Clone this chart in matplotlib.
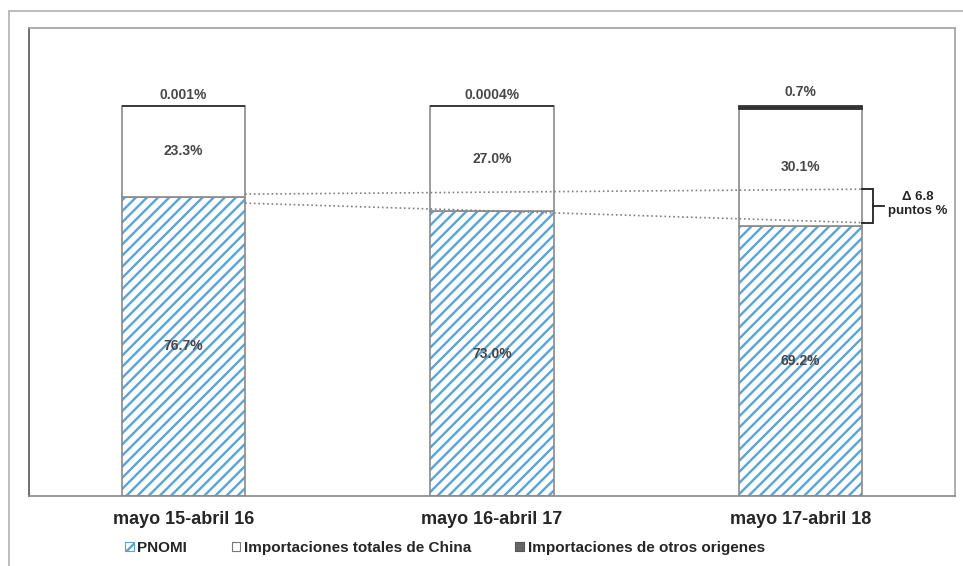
import matplotlib.pyplot as plt
from matplotlib.patches import Patch, Rectangle

plt.rcParams['font.family'] = ['Liberation Sans', 'DejaVu Sans']
plt.rcParams['hatch.linewidth'] = 1.7

# Data
categories = ['mayo 15-abril 16', 'mayo 16-abril 17', 'mayo 17-abril 18']
pnomi = [76.7, 73.0, 69.2]
china = [23.3, 27.0, 30.1]
otros = [0.001, 0.0004, 0.7]
pnomi_labels = ['76.7%', '73.0%', '69.2%']
china_labels = ['23.3%', '27.0%', '30.1%']
otros_labels = ['0.001%', '0.0004%', '0.7%']

blue = '#5aa3d6'
edge = '#8a8a8a'
dark = '#333333'
txt = '#262626'
lab = '#474747'

fig = plt.figure(figsize=(9.63, 5.66), dpi=100)
ax = fig.add_axes([29 / 963, 1 - 496 / 566, (955 - 29) / 963, (496 - 28) / 566])

x = list(range(len(categories)))
w = 0.40
china_bottom = pnomi
otros_bottom = [p + c for p, c in zip(pnomi, china)]

# hatched PNOMI bars, then grey outline over them
ax.bar(x, pnomi, w, color='white', edgecolor=blue, linewidth=0, hatch='///', zorder=2)
ax.bar(x, pnomi, w, color='none', edgecolor=edge, linewidth=1.2, zorder=3)
ax.bar(x, china, w, bottom=china_bottom, color='white', edgecolor=edge, linewidth=1.2, zorder=3)
ax.bar(x, otros, w, bottom=otros_bottom, color=dark, edgecolor=dark, linewidth=1.3, zorder=4)

for i in x:
    ax.text(i, pnomi[i] / 2, pnomi_labels[i], ha='center', va='center',
            fontsize=10, fontweight='bold', color=lab, zorder=5)
    ax.text(i, pnomi[i] + china[i] / 2, china_labels[i], ha='center', va='center',
            fontsize=10, fontweight='bold', color=lab, zorder=5)
    ax.text(i, 100 + otros[i] + 2.8, otros_labels[i], ha='center', va='center',
            fontsize=10, fontweight='bold', color=lab, zorder=5)

# dotted guide lines
ax.plot([0 + w / 2, 2.234], [77.4, 78.7], ls=':', color='#808080', lw=1.2, zorder=4)
ax.plot([0 + w / 2, 2.234], [75.1, 70.0], ls=':', color='#808080', lw=1.2, zorder=4)

# bracket
bx = 2.234
ax.plot([2 + w / 2, bx, bx, 2 + w / 2], [78.7, 78.7, 70.0, 70.0], color='#222222', lw=1.3,
        solid_joinstyle='miter', zorder=5)
ax.plot([bx, 2.27], [74.35, 74.35], color='#222222', lw=1.3, zorder=5)
ax.text(2.38, 74.9, 'Δ 6.8\npuntos %', ha='center', va='center', fontsize=9.5,
        fontweight='bold', color=txt, linespacing=1.3)

ax.set_xlim(-0.5, 2.5)
ax.set_ylim(0, 120)
ax.set_xticks(x)
ax.set_xticklabels(categories, fontsize=13, fontweight='bold', color=txt)
ax.tick_params(axis='x', length=0, pad=11)
ax.set_yticks([])
for s in ['top', 'right']:
    ax.spines[s].set_color('#a0a0a0')
ax.spines['bottom'].set_color('#888888')
ax.spines['left'].set_color('#555555')
for s in ax.spines.values():
    s.set_linewidth(1.2)

# outer frame
fig.patches.append(Rectangle((9 / 963, -0.1), 1.2, 1 - 11 / 566 + 0.1, transform=fig.transFigure,
                             fill=False, edgecolor='#b0b0b0', lw=1.2))

handles = [Patch(facecolor='white', edgecolor=blue, hatch='///', linewidth=0.8),
           Patch(facecolor='white', edgecolor='#777777', linewidth=0.8),
           Patch(facecolor='#666666', edgecolor='#555555', linewidth=0.8)]
names = ['PNOMI', 'Importaciones totales de China', 'Importaciones de otros origenes']
leg = fig.legend(handles, names, loc='center', bbox_to_anchor=(445 / 963, 1 - 548 / 566), ncol=3,
                 frameon=False, handlelength=0.55, handleheight=0.55, handletextpad=0.25,
                 columnspacing=2.9, prop={'size': 11, 'weight': 'bold'})
for t in leg.get_texts():
    t.set_color(txt)

fig.savefig('out.png', dpi=100)
